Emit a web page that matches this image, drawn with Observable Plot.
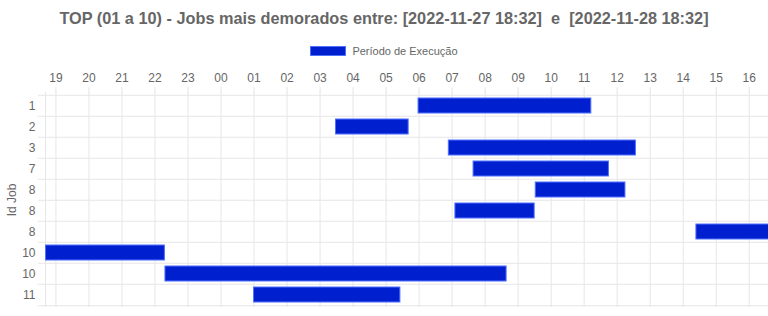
<!DOCTYPE html>
<html>
<head>
<meta charset="utf-8">
<script src="https://cdn.jsdelivr.net/npm/d3@7"></script>
<script src="https://cdn.jsdelivr.net/npm/@observablehq/plot@0.6"></script>
<style>
  html, body { margin: 0; padding: 0; background: #fff; }
  body { width: 768px; height: 316px; overflow: hidden; font-family: "Liberation Sans", Arial, sans-serif; }
  #title { height: 36px; line-height: 36px; text-align: center; font-size: 16.3px; font-weight: bold; color: #666; white-space: pre; }
  #legend { box-sizing: border-box; height: 24px; padding-top: 10px; display: flex; justify-content: center; align-items: flex-start; font-size: 11px; line-height: 11px; color: #666; }
  #legend .sw { width: 34px; height: 8px; background: #0020d0; border: 1px solid #5070ff; margin-right: 6px; }
</style>
</head>
<body>
<div id="title">TOP (01 a 10) - Jobs mais demorados entre: [2022-11-27 18:32]  e  [2022-11-28 18:32]</div>
<div id="legend"><span class="sw"></span><span>Período de Execução</span></div>
<div id="chart"></div>
<script>
const jobIds = ["1", "2", "3", "7", "8", "8", "8", "10", "10", "11"];
const startTimes = [
  "2022-11-28 05:59", "2022-11-28 03:29", "2022-11-28 06:54", "2022-11-28 07:39", "2022-11-28 09:32",
  "2022-11-28 07:06", "2022-11-28 14:24", "2022-11-27 18:42", "2022-11-27 22:19", "2022-11-28 01:00"
];
const endTimes = [
  "2022-11-28 11:13", "2022-11-28 05:41", "2022-11-28 12:34", "2022-11-28 11:45", "2022-11-28 12:15",
  "2022-11-28 09:30", "2022-11-28 17:00", "2022-11-27 22:18", "2022-11-28 08:39", "2022-11-28 05:26"
];
const xDomain = ["2022-11-27 18:41", "2022-11-28 16:35"];

const parse = d3.utcParse("%Y-%m-%d %H:%M");
const rows = jobIds.map((id, i) => ({i, id, start: parse(startTimes[i]), end: parse(endTimes[i])}));

const W = 768, H = 256, MT = 32, MB = 9, ML = 45, MR = 0;
const bw = (H - MT - MB) / jobIds.length;
const grid = "#e6e6e6";

const chart = Plot.plot({
  width: W, height: H,
  marginTop: MT, marginBottom: MB, marginLeft: ML, marginRight: MR,
  style: {fontFamily: "'Liberation Sans', Arial, sans-serif", fontSize: "12px", background: "#fff", overflow: "visible"},
  x: {type: "utc", domain: xDomain.map(parse)},
  y: {type: "band", domain: rows.map(d => d.i), padding: 0},
  marks: [
    Plot.gridX({ticks: d3.utcHour.every(1), stroke: grid, strokeOpacity: 1}),
    Plot.ruleY(rows, {y: "i", dy: -bw / 2, stroke: grid, strokeOpacity: 1, insetLeft: -7}),
    Plot.ruleY([rows[rows.length - 1]], {y: "i", dy: bw / 2, stroke: grid, strokeOpacity: 1, insetLeft: -7}),
    Plot.ruleX([parse(xDomain[0])], {stroke: grid, strokeOpacity: 1}),
    Plot.axisX({anchor: "top", ticks: d3.utcHour.every(1), tickFormat: d3.utcFormat("%H"),
      tickSize: 6, tickPadding: 5, stroke: grid, strokeOpacity: 1, fill: "#666", fontSize: 12, label: null}),
    Plot.axisY({tickFormat: i => jobIds[i], tickSize: 0, tickPadding: 10, fill: "#666", fontSize: 12,
      label: "Id Job", labelAnchor: "center", labelOffset: 38}),
    Plot.barX(rows, {x1: "start", x2: "end", y: "i", fill: "#0020d0", stroke: "#5070ff", strokeWidth: 1,
      insetTop: 3, insetBottom: 3, clip: true})
  ]
});
document.getElementById("chart").appendChild(chart);
</script>
</body>
</html>
